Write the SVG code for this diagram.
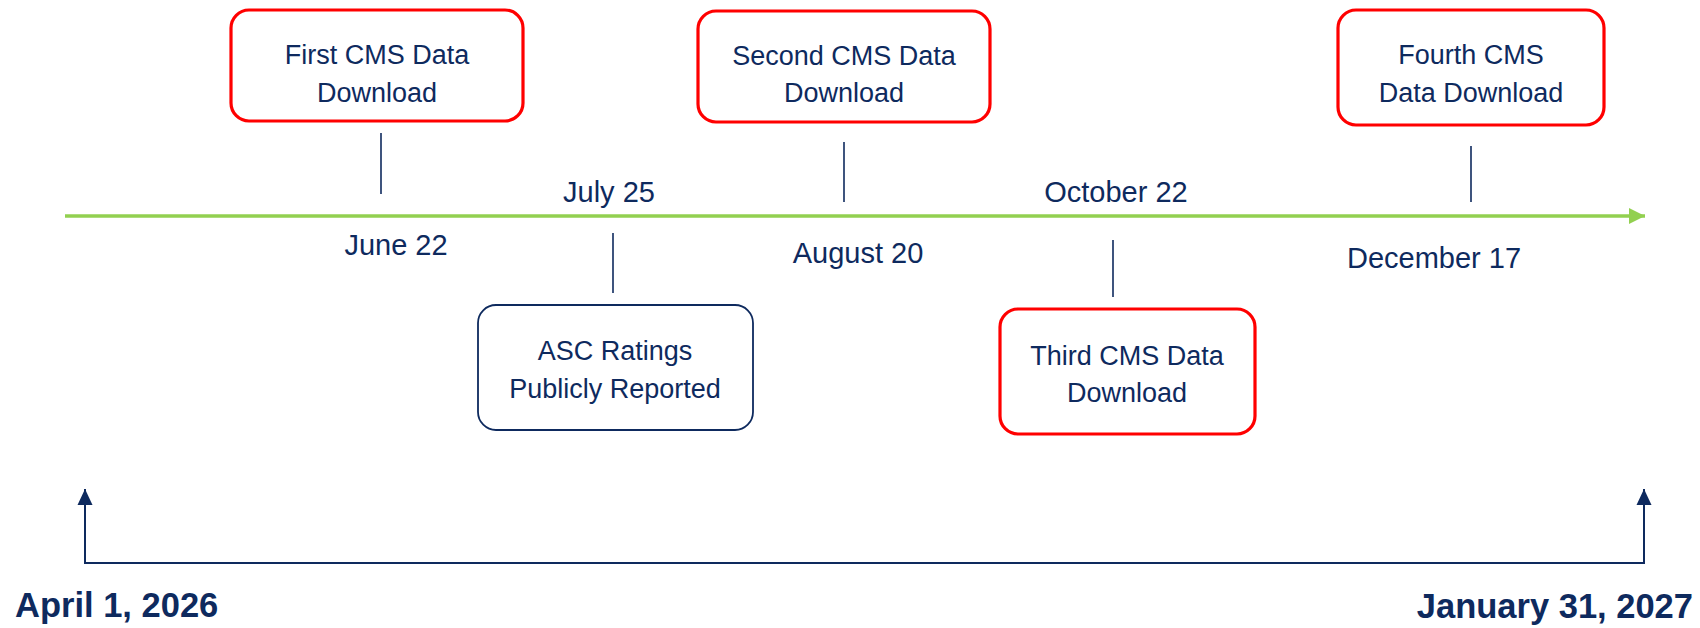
<svg xmlns="http://www.w3.org/2000/svg" width="1700" height="628" viewBox="0 0 1700 628">
<style>
.red{fill:#fff;stroke:#ff0000;stroke-width:3.2}
.blue{fill:#fff;stroke:#0e2a5e;stroke-width:1.8}
.bt{font-family:"Liberation Sans",Arial,sans-serif;font-size:27px;fill:#0e2a5e;text-anchor:middle}
.dt{font-family:"Liberation Sans",Arial,sans-serif;font-size:29px;fill:#0e2a5e;text-anchor:middle}
.bd{font-family:"Liberation Sans",Arial,sans-serif;font-size:34.5px;font-weight:bold;fill:#0e2a5e}
.tick{stroke:#0e2a5e;stroke-width:1.6;fill:none}
</style>
<defs>
<marker id="ga" markerUnits="userSpaceOnUse" viewBox="0 0 16 16" refX="16" refY="8" markerWidth="16" markerHeight="16" orient="auto">
<path d="M0,0 L16,8 L0,16 Z" fill="#92d050"/>
</marker>
</defs>
<g id="connectors">
<line x1="65" y1="216" x2="1645" y2="216" stroke="#92d050" stroke-width="3.5" marker-end="url(#ga)"/>
<line class="tick" x1="381" y1="133" x2="381" y2="194"/>
<line class="tick" x1="844" y1="142" x2="844" y2="202"/>
<line class="tick" x1="1471" y1="146" x2="1471" y2="202"/>
<line class="tick" x1="613" y1="233" x2="613" y2="293"/>
<line class="tick" x1="1113" y1="240" x2="1113" y2="297"/>
<path d="M85,489 L85,563 L1644,563 L1644,489" fill="none" stroke="#0e2a5e" stroke-width="2"/>
<path d="M77.5,505 L85,489 L92.5,505 Z" fill="#0e2a5e"/>
<path d="M1636.5,505 L1644,489 L1651.5,505 Z" fill="#0e2a5e"/>
</g>
<g id="first">
<rect class="red" x="231" y="10" width="292" height="111" rx="18"/>
<text class="bt" x="377" y="64">First CMS Data</text>
<text class="bt" x="377" y="102">Download</text>
</g>
<g id="second">
<rect class="red" x="698" y="11" width="292" height="111" rx="18"/>
<text class="bt" x="844" y="65">Second CMS Data</text>
<text class="bt" x="844" y="102">Download</text>
</g>
<g id="fourth">
<rect class="red" x="1338" y="10" width="266" height="115" rx="18"/>
<text class="bt" x="1471" y="64">Fourth CMS</text>
<text class="bt" x="1471" y="102">Data Download</text>
</g>
<g id="asc">
<rect class="blue" x="478" y="305" width="275" height="125" rx="18"/>
<text class="bt" x="615" y="360">ASC Ratings</text>
<text class="bt" x="615" y="398">Publicly Reported</text>
</g>
<g id="third">
<rect class="red" x="1000" y="309" width="255" height="125" rx="18"/>
<text class="bt" x="1127" y="365">Third CMS Data</text>
<text class="bt" x="1127" y="402">Download</text>
</g>
<g id="dates">
<text class="dt" x="396" y="255">June 22</text>
<text class="dt" x="609" y="202">July 25</text>
<text class="dt" x="858" y="263">August 20</text>
<text class="dt" x="1116" y="202">October 22</text>
<text class="dt" x="1434" y="268">December 17</text>
</g>
<g id="ends">
<text class="bd" x="15" y="617">April 1, 2026</text>
<text class="bd" x="1693" y="618" text-anchor="end">January 31, 2027</text>
</g>
</svg>
